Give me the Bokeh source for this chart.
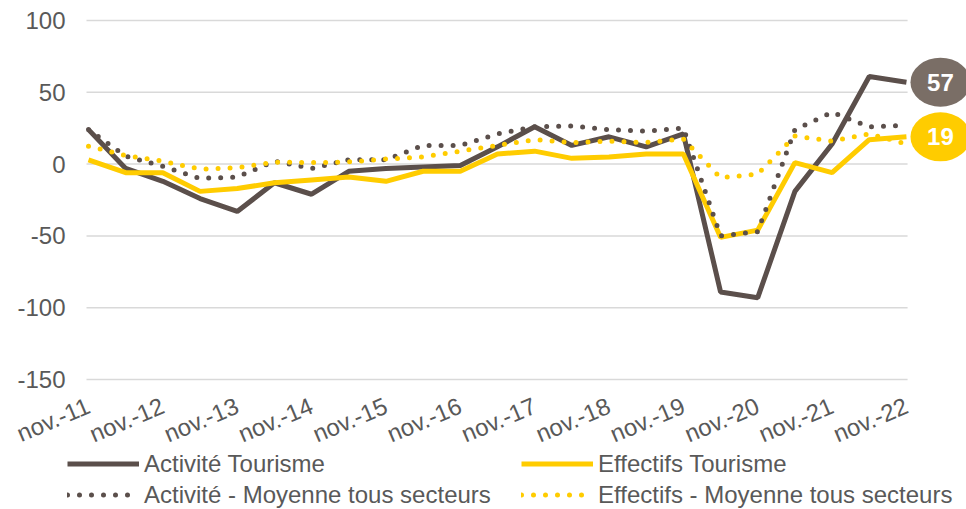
from bokeh.plotting import figure
from bokeh.models import (Range1d, FixedTicker, Legend, LegendItem, Label)
from bokeh.embed import file_html
from bokeh.resources import INLINE

# ---- data (semi-annual survey points, nov.-11 .. nov.-22) ----
periods = ["nov.-11", "mai-12", "nov.-12", "mai-13", "nov.-13", "mai-14", "nov.-14",
           "mai-15", "nov.-15", "mai-16", "nov.-16", "mai-17", "nov.-17", "mai-18",
           "nov.-18", "mai-19", "nov.-19", "mai-20", "nov.-20", "mai-21", "nov.-21",
           "mai-22", "nov.-22"]
activite_tourisme = [24, -3, -12, -24, -33, -13, -21, -5, -3, -2, -1, 12, 26, 13,
                     19, 12, 21, -89, -93, -19, 14, 61, 57]
effectifs_tourisme = [3, -6, -6, -19, -17, -13, -11, -9, -12, -5, -5, 7, 9, 4,
                      5, 7, 7, -51, -46, 1, -6, 17, 19]
activite_moyenne = [24, 5.5, -1.5, -10, -9, 2, -3, 3, 3, 13, 13, 21, 26, 26.5,
                    24, 23, 25, -50, -47, 24, 36, 26, 27]
effectifs_moyenne = [12.5, 6, 2, -3.5, -2.5, 1.4, 1, 1.5, 3.5, 5, 9, 13, 17, 15,
                     16, 15, 17.5, -9.5, -7, 19.5, 16, 21, 14]
x_tick_labels = ["nov.-11", "nov.-12", "nov.-13", "nov.-14", "nov.-15", "nov.-16",
                 "nov.-17", "nov.-18", "nov.-19", "nov.-20", "nov.-21", "nov.-22"]
y_ticks = [-150, -100, -50, 0, 50, 100]

x = list(range(len(periods)))
tick_pos = [periods.index(lbl) for lbl in x_tick_labels]

BROWN = "#5b4f4b"
BUBBLE = "#7a6e66"
YELLOW = "#ffcc00"
TXT = "#595959"
GRID = "#d9d9d9"
FONT = "Liberation Sans"

W, H = 966, 509
X_START, X_END = -2.367, 23.615
X_LEFT = -0.054          # left end of the grid lines (data units)
X_RIGHT = x[-1] + 0.03   # right end of the grid lines
BUBBLE_DX_PX = 34        # bubble centre offset to the right of the last point

# the frame covers the whole canvas; axes are pinned inside it
p = figure(width=W, height=H, output_backend="svg", toolbar_location=None,
           x_range=Range1d(X_START, X_END),
           y_range=Range1d(-240.5, 113.9),
           min_border_left=0, min_border_right=0, min_border_top=0,
           min_border_bottom=0)
p.outline_line_color = None
p.background_fill_color = "white"
p.border_fill_color = "white"

p.xgrid.grid_line_color = None
p.ygrid.grid_line_color = None
p.segment(x0=[X_LEFT] * len(y_ticks), x1=[X_RIGHT] * len(y_ticks),
          y0=y_ticks, y1=y_ticks, line_color=GRID, line_width=1.5)

r_at = p.line(x, activite_tourisme, line_color=BROWN, line_width=5)
r_et = p.line(x, effectifs_tourisme, line_color=YELLOW, line_width=5)
r_am = p.line(x, activite_moyenne, line_color=BROWN, line_width=5,
              line_dash="0 12", line_cap="round")
r_em = p.line(x, effectifs_moyenne, line_color=YELLOW, line_width=5,
              line_dash="0 12", line_cap="round")

# axes
p.yaxis.ticker = FixedTicker(ticks=y_ticks)
p.yaxis.fixed_location = X_LEFT
p.yaxis.major_label_overrides = {v: str(v) for v in y_ticks}
p.xaxis.ticker = FixedTicker(ticks=tick_pos)
p.xaxis.fixed_location = min(y_ticks)
p.xaxis.major_label_overrides = {i: lbl for i, lbl in zip(tick_pos, x_tick_labels)}
p.xaxis.major_label_orientation = 0.4
for ax in (p.xaxis, p.yaxis):
    ax.axis_line_color = None
    ax.major_tick_line_color = None
    ax.minor_tick_line_color = None
    ax.major_tick_out = 0
    ax.major_tick_in = 0
    ax.minor_tick_out = 0
    ax.minor_tick_in = 0
    ax.major_label_text_font = FONT
    ax.major_label_text_font_size = "24px"
    ax.major_label_text_color = TXT
p.yaxis.major_label_standoff = 21
p.xaxis.major_label_standoff = 25

# end-value bubbles (ellipse behind a bold white label)
dx = BUBBLE_DX_PX * (X_END - X_START) / W
for vals, col in ((activite_tourisme, BUBBLE), (effectifs_tourisme, YELLOW)):
    p.ellipse(x=[x[-1] + dx], y=[vals[-1]], width=60, height=49,
              width_units="screen", height_units="screen",
              fill_color=col, line_color=None)
    p.add_layout(Label(x=x[-1], y=vals[-1], x_offset=BUBBLE_DX_PX,
                       text=f"{vals[-1]:.0f}",
                       text_font=FONT, text_font_size="24px", text_font_style="bold",
                       text_color="white", text_align="center", text_baseline="middle"))

legend = Legend(items=[
    LegendItem(label="Activité Tourisme", renderers=[r_at]),
    LegendItem(label="Effectifs Tourisme", renderers=[r_et]),
    LegendItem(label="Activité - Moyenne tous secteurs", renderers=[r_am]),
    LegendItem(label="Effectifs - Moyenne tous secteurs", renderers=[r_em]),
], orientation="horizontal", ncols=2, location=(67, -1),
    glyph_width=72, glyph_height=31, label_standoff=5, spacing=0,
    padding=0, margin=0, border_line_color=None, background_fill_alpha=0,
    label_text_font=FONT, label_text_font_size="24px", label_text_color=TXT,
    label_height=31, label_width=377)
p.add_layout(legend, "center")

open("out.html", "w").write(file_html(p, INLINE))
